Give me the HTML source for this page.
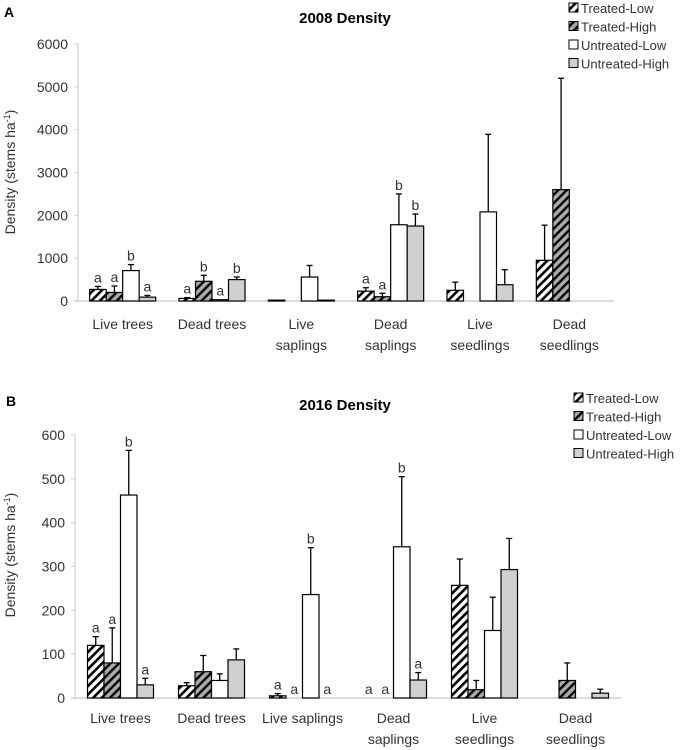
<!DOCTYPE html>
<html><head><meta charset="utf-8">
<style>
body{margin:0;background:#fff;}
svg{display:block;font-family:"Liberation Sans",sans-serif;}
</style></head>
<body>
<svg id="fig" width="685" height="750" viewBox="0 0 685 750" xmlns="http://www.w3.org/2000/svg">
<defs>
<pattern id="hatchW" patternUnits="userSpaceOnUse" width="6" height="6" patternTransform="rotate(45)">
<rect width="6" height="6" fill="#fff"/><rect width="2.6" height="6" fill="#000"/></pattern>
<pattern id="hatchG" patternUnits="userSpaceOnUse" width="6" height="6" patternTransform="rotate(45)">
<rect width="6" height="6" fill="#aaa"/><rect width="2.4" height="6" fill="#000"/></pattern>
</defs>
</svg>
<script>
const categories = [["Live trees"],["Dead trees"],["Live","saplings"],["Dead","saplings"],["Live","seedlings"],["Dead","seedlings"]];
const categoriesB = [["Live trees"],["Dead trees"],["Live saplings"],["Dead","saplings"],["Live","seedlings"],["Dead","seedlings"]];
const seriesNames = ["Treated-Low","Treated-High","Untreated-Low","Untreated-High"];
const yTicksA = [0,1000,2000,3000,4000,5000,6000];
const yTicksB = [0,100,200,300,400,500,600];
const valsA_TL = [270,60,20,230,250,950];
const valsA_TH = [200,460,0,100,0,2600];
const valsA_UL = [710,30,560,1780,2080,0];
const valsA_UH = [90,500,20,1750,380,0];
const errA_TL = [340,80,20,310,440,1770];
const errA_TH = [350,600,0,180,0,5200];
const errA_UL = [850,30,830,2500,3890,0];
const errA_UH = [130,560,20,2030,730,0];
const letA_TL = ["a","a","","a","",""];
const letA_TH = ["a","b","","a","",""];
const letA_UL = ["b","a","","b","",""];
const letA_UH = ["a","b","","b","",""];
const valsB_TL = [120,28,5,0,257,0];
const valsB_TH = [80,60,0,0,19,40];
const valsB_UL = [463,40,236,345,154,0];
const valsB_UH = [30,87,0,41,293,11];
const errB_TL = [140,35,10,0,317,0];
const errB_TH = [160,97,0,0,40,80];
const errB_UL = [565,55,343,505,230,0];
const errB_UH = [45,112,0,58,364,20];
const letB_TL = ["a","","a","a","",""];
const letB_TH = ["a","","a","a","",""];
const letB_UL = ["b","","b","b","",""];
const letB_UH = ["a","","a","a","",""];

const NS="http://www.w3.org/2000/svg";
const svg=document.getElementById('fig');
const fills=["url(#hatchW)","url(#hatchG)","#fff","#d0d0d0"];
function mk(tag,attrs,parent){const e=document.createElementNS(NS,tag);for(const k in attrs)e.setAttribute(k,attrs[k]);(parent||svg).appendChild(e);return e;}

function drawChart(o){
  const g=mk('g',{});
  
  
  const ymax=o.ticks[o.ticks.length-1];
  const y=v=>o.y0-(v/ymax)*(o.y0-o.yTop);
  const gw=(o.x1-o.x0)/categories.length;
  const bw=16.5;
  const xc=i=>o.x0+gw*(i+0.5)+o.shift[i];
  // panel letter & title
  let t=mk('text',{x:o.lx,y:o.ly,'font-size':14,'font-weight':'bold'},g);t.textContent=o.letter;
  
  
  t=mk('text',{x:345,y:o.ty,'font-size':15,'font-weight':'bold','text-anchor':'middle'},g);t.textContent=o.title;
  
  
  // axes
  let a=mk('line',{x1:o.x0,y1:o.yTop,x2:o.x0,y2:o.y0,stroke:'#d0d0d0','stroke-width':1.2},g);
  
  
  a=mk('line',{x1:o.x0-4,y1:o.y0,x2:o.x1,y2:o.y0,stroke:'#d0d0d0','stroke-width':1.5},g);
  
  
  o.ticks.forEach(v=>{
    const tk=mk('line',{x1:o.x0-4,y1:y(v),x2:o.x0,y2:y(v),stroke:'#d0d0d0'},g);
    
    
    const tl=mk('text',{x:o.x0-10,y:y(v)+5,'font-size':14,'text-anchor':'end',fill:'#333'},g);tl.textContent=v;
    
    
  });
  const yt=mk('text',{transform:`translate(15,${o.ymid}) rotate(-90)`,'font-size':14,'text-anchor':'middle',fill:'#333'},g);
  yt.innerHTML='Density (stems ha<tspan dy="-5" font-size="9">-1</tspan><tspan dy="5">)</tspan>';
  
  
  o.cats.forEach((lines,i)=>{
    lines.forEach((ln,j)=>{
      const c=mk('text',{x:xc(i),y:o.cy+j*21,'font-size':14,'text-anchor':'middle',fill:'#333'},g);c.textContent=ln;
      
      
    });
  });
  o.vals.forEach((vals,s)=>{
    vals.forEach((v,i)=>{
      const bx=xc(i)-2*bw+s*bw;
      if(o.errs[s][i]>v){
        const e=mk('line',{x1:bx+bw/2,y1:y(o.errs[s][i]),x2:bx+bw/2,y2:y(v),stroke:'#000','stroke-width':1.3},g);
        
        
        const c=mk('line',{x1:bx+bw/2-3,y1:y(o.errs[s][i]),x2:bx+bw/2+3,y2:y(o.errs[s][i]),stroke:'#000','stroke-width':1.3},g);
        
        
      }
      if(v>0){
        const r=mk('rect',{x:bx,y:y(v),width:bw,height:o.y0-y(v),fill:fills[s],stroke:'#000','stroke-width':1.2},g);
        
        
      }
      const L=o.lets[s][i];
      if(L){
        const top=Math.max(o.errs[s][i],v);
        const lt=mk('text',{x:bx+bw/2,y:y(top)-4,'font-size':14,'text-anchor':'middle',fill:'#333'},g);lt.textContent=L;
        
        
      }
    });
  });
  // legend
  seriesNames.forEach((n,s)=>{
    const ly=o.legY+s*18.5;
    const sw=mk('rect',{x:o.legX,y:ly-9,width:9,height:9,fill:fills[s],stroke:'#000','stroke-width':1},g);
    
    
    const lt=mk('text',{x:o.legX+12,y:ly+1,'font-size':13,fill:'#333'},g);lt.textContent=n;
    
    
  });
}
drawChart({name:'chart-2008',letter:'A',lx:4,ly:17,title:'2008 Density',ty:23,x0:78,x1:614,y0:301,yTop:44,ticks:yTicksA,ymid:172,
  cats:categories,cy:329,shift:[0,0,0,0,0,0],
  vals:[valsA_TL,valsA_TH,valsA_UL,valsA_UH],errs:[errA_TL,errA_TH,errA_UL,errA_UH],lets:[letA_TL,letA_TH,letA_UL,letA_UH],
  legX:569,legY:12});
drawChart({name:'chart-2016',letter:'B',lx:6,ly:406,title:'2016 Density',ty:410,x0:75,x1:621,y0:698,yTop:435,ticks:yTicksB,ymid:555,
  cats:categoriesB,cy:723,shift:[0,0,0,0,0,0],
  vals:[valsB_TL,valsB_TH,valsB_UL,valsB_UH],errs:[errB_TL,errB_TH,errB_UL,errB_UH],lets:[letB_TL,letB_TH,letB_UL,letB_UH],
  legX:574,legY:402});
</script>
</body></html>
